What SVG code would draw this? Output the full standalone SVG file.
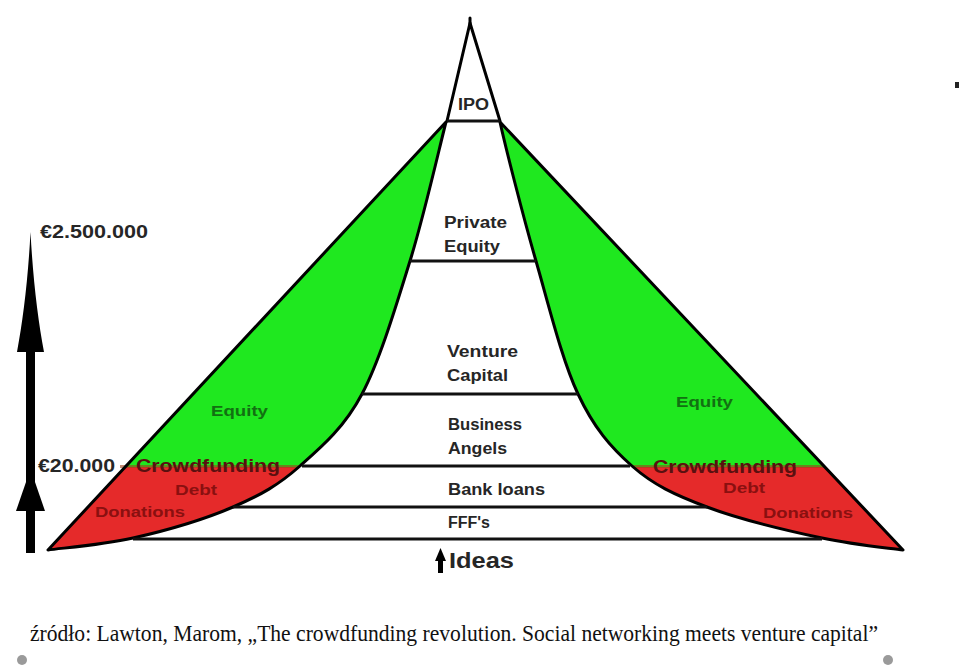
<svg xmlns="http://www.w3.org/2000/svg" width="960" height="665" viewBox="0 0 960 665">
<style>
.ln{stroke:#000;stroke-width:3;fill:none;stroke-linecap:round;stroke-linejoin:round}
.hl{stroke:#111;stroke-width:3;fill:none}
.lab{font-family:"Liberation Sans",Arial,sans-serif;font-weight:bold;fill:#262626}
.eq{font-family:"Liberation Sans",Arial,sans-serif;font-weight:bold;fill:#127012;font-size:15px}
.cf{font-family:"Liberation Sans",Arial,sans-serif;font-weight:bold;fill:#5a1010;font-size:18px}
.db{font-family:"Liberation Sans",Arial,sans-serif;font-weight:bold;fill:#8a1010;font-size:15px}
.cap{font-family:"Liberation Serif","Times New Roman",serif;font-size:23px;fill:#111}
</style>
<defs>
<clipPath id="top"><rect x="0" y="0" width="960" height="467"/></clipPath>
<clipPath id="bot"><rect x="0" y="467" width="960" height="200"/></clipPath>
<path id="leftReg" d="M446,122 L48,550 C62,548 102,545 133,538 C164,531 205,519 233,507 C261,495 278.5,485 300,466 C321.5,447 344,428 362,394 C380,360 396,306 410,261 C424,216 440,145 446,122 Z"/>
<path id="rightReg" d="M500,122 L903,550 C889.5,548 855,545 822,538 C789,531 739,519 707,507 C675,495 653.5,485 632,466 C610.5,447 594,428 578,394 C562,360 549,306 536,261 C523,216 505,145 500,122 Z"/>
</defs>

<g id="left-region">
<use href="#leftReg" fill="#e52a2a" clip-path="url(#bot)"/>
<use href="#leftReg" fill="#1fe81f" clip-path="url(#top)"/>
<rect x="120" y="465" width="180" height="3" fill="#a0401a" opacity="0.6"/>
<use href="#leftReg" class="ln"/>
</g>
<g id="right-region">
<use href="#rightReg" fill="#e52a2a" clip-path="url(#bot)"/>
<use href="#rightReg" fill="#1fe81f" clip-path="url(#top)"/>
<rect x="632" y="465" width="192" height="3" fill="#a0401a" opacity="0.6"/>
<use href="#rightReg" class="ln"/>
</g>

<g id="connectors">
<path class="ln" d="M447,121 L470,23 L500,121"/>
<line class="ln" x1="470" y1="18" x2="470" y2="26"/>
<line class="hl" x1="447" y1="121" x2="500" y2="121"/>
<line class="hl" x1="410" y1="261" x2="536" y2="261"/>
<line class="hl" x1="362" y1="394" x2="578" y2="394"/>
<line class="hl" x1="302" y1="466" x2="630" y2="466"/>
<line class="hl" x1="233" y1="507" x2="707" y2="507"/>
<line class="hl" x1="133" y1="539" x2="822" y2="539"/>
<rect x="26" y="340" width="9" height="213" fill="#000"/>
<path d="M30.5,232 C33,280 38,320 44,352 L17,352 C23,320 28,280 30.5,232 Z" fill="#000"/>
<path d="M30.5,469 L45,511 L16,511 Z" fill="#000"/>
<rect x="438" y="556" width="5" height="17" fill="#000"/>
<path d="M440.5,548 L446,561 L435,561 Z" fill="#000"/>
</g>

<g id="labels">
<text class="lab" x="40" y="238" font-size="18" textLength="108" lengthAdjust="spacingAndGlyphs">€2.500.000</text>
<text class="lab" x="38" y="472" font-size="18" textLength="77" lengthAdjust="spacingAndGlyphs">€20.000</text>
<text class="lab" x="458" y="110" font-size="16" textLength="31" lengthAdjust="spacingAndGlyphs">IPO</text>
<text class="lab" x="444" y="228" font-size="16" textLength="63" lengthAdjust="spacingAndGlyphs">Private</text>
<text class="lab" x="444" y="252" font-size="16" textLength="56" lengthAdjust="spacingAndGlyphs">Equity</text>
<text class="lab" x="447" y="357" font-size="16" textLength="71" lengthAdjust="spacingAndGlyphs">Venture</text>
<text class="lab" x="447" y="381" font-size="16" textLength="61" lengthAdjust="spacingAndGlyphs">Capital</text>
<text class="lab" x="448" y="430" font-size="16" textLength="74" lengthAdjust="spacingAndGlyphs">Business</text>
<text class="lab" x="448" y="454" font-size="16" textLength="59" lengthAdjust="spacingAndGlyphs">Angels</text>
<text class="lab" x="448" y="495" font-size="16" textLength="97" lengthAdjust="spacingAndGlyphs">Bank loans</text>
<text class="lab" x="448" y="528" font-size="16" textLength="42" lengthAdjust="spacingAndGlyphs">FFF's</text>
<text class="lab" x="449" y="568" font-size="22" textLength="65" lengthAdjust="spacingAndGlyphs">Ideas</text>
<text class="eq" x="211" y="416" textLength="57" lengthAdjust="spacingAndGlyphs">Equity</text>
<text class="eq" x="676" y="407" textLength="57" lengthAdjust="spacingAndGlyphs">Equity</text>
<text class="cf" x="136" y="472" textLength="144" lengthAdjust="spacingAndGlyphs">Crowdfunding</text>
<text class="cf" x="653" y="473" textLength="144" lengthAdjust="spacingAndGlyphs">Crowdfunding</text>
<text class="db" x="175" y="495" textLength="42" lengthAdjust="spacingAndGlyphs">Debt</text>
<text class="db" x="723" y="493" textLength="42" lengthAdjust="spacingAndGlyphs">Debt</text>
<text class="db" x="95" y="517" textLength="90" lengthAdjust="spacingAndGlyphs">Donations</text>
<text class="db" x="763" y="518" textLength="90" lengthAdjust="spacingAndGlyphs">Donations</text>
</g>

<g id="caption">
<text class="cap" x="30" y="641" textLength="848" lengthAdjust="spacingAndGlyphs">źródło: Lawton, Marom, „The crowdfunding revolution. Social networking meets venture capital”</text>
<circle cx="22" cy="660" r="5" fill="#9a9a9a"/>
<circle cx="888" cy="660" r="5" fill="#9a9a9a"/>
<rect x="955" y="82" width="4" height="6" fill="#222"/>
</g>
</svg>
